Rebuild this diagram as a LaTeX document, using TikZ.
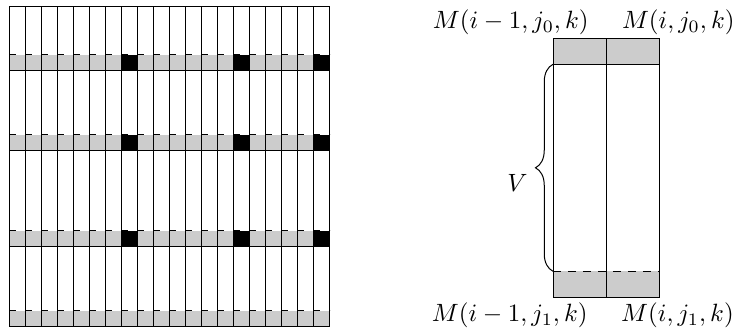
\documentclass[tikz,border=0pt]{standalone}
\usetikzlibrary{decorations.pathreplacing}
\begin{document}
\begin{tikzpicture}[x=0.4pt,y=-0.4pt]
    \useasboundingbox (0,0) rectangle (734,331);
    % grille: bandes grises, cases noires
    \begin{scope}[shift={(9.5,6.7)},x=6.4pt,y=-6.4pt]
        \foreach \r in {3,8,14,19} {
            \fill[black!20] (0,\r) rectangle (20,\r+1);
            \draw[dash pattern=on 2.4pt off 4pt] (0,\r) -- (20,\r);
        }
        \foreach \r in {3,8,14}
            \foreach \c in {7,14,19}
                \fill (\c,\r) rectangle (\c+1,\r+1);
        \foreach \r in {4,9,15}
            \draw (0,\r) -- (20,\r);
        \foreach \c in {1,...,19}
            \draw (\c,0) -- (\c,20);
        \draw (0,0) rectangle (20,20);
    \end{scope}
    % colonnes i-1 et i
    \fill[black!20] (553,39) rectangle (659.5,64.3);
    \fill[black!20] (553,271.3) rectangle (659.5,297.3);
    \draw (553,64.3) -- (659.5,64.3);
    \draw[dashed] (553,271.3) -- (659.5,271.3);
    \draw (606,39) -- (606,297.3);
    \draw (553,39) rectangle (659.5,297.3);
    \node[anchor=base] (Mprev0) at (510.8,28.3) {$M(i-1,j_0,k)$};
    \node[anchor=base] (Mcur0) at (678.3,28.3) {$M(i,j_0,k)$};
    \node[anchor=base] (Mprev1) at (509.8,321.7) {$M(i-1,j_1,k)$};
    \node[anchor=base] (Mcur1) at (677.5,321.7) {$M(i,j_1,k)$};
    % accolade V
    \draw[decorate,decoration={brace,amplitude=7pt}]
        (553,271.3) -- (553,64.3);
    \node[anchor=base] (V) at (517.5,191.5) {$V$};
\end{tikzpicture}
\end{document}
